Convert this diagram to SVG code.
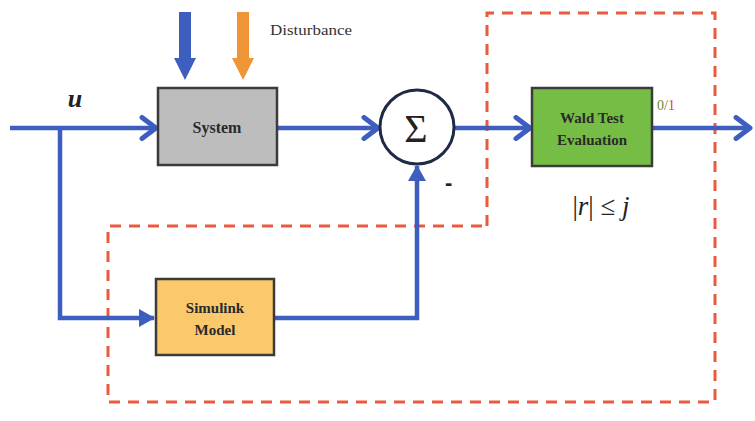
<svg xmlns="http://www.w3.org/2000/svg" width="755" height="421" viewBox="0 0 755 421">
  <defs>
    <marker id="chev" viewBox="0 0 20 26" markerWidth="20" markerHeight="26" refX="17" refY="13" orient="auto" markerUnits="userSpaceOnUse">
      <path d="M3,2.5 L17,13 L3,23.5" fill="none" stroke="#3d5ebf" stroke-width="5" stroke-linecap="round" stroke-linejoin="round"/>
    </marker>
    <marker id="tri" viewBox="0 0 16 18" markerWidth="16" markerHeight="18" refX="15" refY="9" orient="auto" markerUnits="userSpaceOnUse">
      <path d="M0,0 L16,9 L0,18 Z" fill="#3d5ebf"/>
    </marker>
  </defs>
  <style>
    .wire { fill: none; stroke: #3d5ebf; stroke-width: 4.5; }
    .box { stroke: #3b3b3b; stroke-width: 2.5; }
    .lbl { font-family: "Liberation Serif", serif; font-weight: bold; fill: #2a2a2a; text-anchor: middle; }
    .zone { fill: none; stroke: #ec5a3e; stroke-width: 3; stroke-dasharray: 11 8; }
  </style>
  <rect width="755" height="421" fill="#ffffff"/>

  <!-- dashed observer region -->
  <path class="zone" d="M487,226 L487,13 L715,13 L715,402 L108,402 L108,226 Z"/>

  <!-- disturbance inputs -->
  <g id="disturbance">
    <polygon points="179,12 191,12 191,58 196,58 185,80 174,58 179,58" fill="#3d5ebf"/>
    <polygon points="237,12 249,12 249,58 254,58 243,80 232,58 237,58" fill="#ef9437"/>
    <text x="270" y="35" font-family="Liberation Serif, serif" font-size="14" fill="#333" textLength="82" lengthAdjust="spacingAndGlyphs">Disturbance</text>
  </g>

  <g id="connectors">
    <path class="wire" d="M10,128 L156,128" marker-end="url(#chev)"/>
    <path class="wire" d="M60,128 L60,318 L154,318" marker-end="url(#tri)"/>
    <path class="wire" d="M277,128 L378,128" marker-end="url(#chev)"/>
    <path class="wire" d="M274,318 L417,318 L417,166" marker-end="url(#tri)"/>
    <path class="wire" d="M454,128 L530,128" marker-end="url(#chev)"/>
    <path class="wire" d="M652,128 L750,128" marker-end="url(#chev)"/>
  </g>

  <text x="75" y="107" font-family="Liberation Serif, serif" font-size="26" font-style="italic" font-weight="bold" fill="#222" text-anchor="middle">u</text>

  <g id="system">
    <rect class="box" x="158" y="88" width="119" height="77" fill="#bdbdbd"/>
    <text class="lbl" x="217" y="133" font-size="16">System</text>
  </g>

  <g id="sum">
    <circle cx="417" cy="127" r="37" fill="#ffffff" stroke="#1f2a44" stroke-width="3"/>
    <text x="416" y="142" font-family="Liberation Serif, serif" font-size="40" fill="#222" text-anchor="middle">Σ</text>
    <text x="445" y="190" font-family="Liberation Sans, sans-serif" font-size="22" font-weight="bold" fill="#222">-</text>
  </g>

  <g id="wald">
    <rect class="box" x="532" y="88" width="120" height="78" fill="#76bd45"/>
    <text class="lbl" x="592" y="123" font-size="15">Wald Test</text>
    <text class="lbl" x="592" y="145" font-size="15">Evaluation</text>
    <text x="657" y="110" font-family="Liberation Serif, serif" font-size="14"><tspan fill="#6d8a2a">0/</tspan><tspan fill="#e04030">1</tspan></text>
    <text x="601" y="215" font-family="Liberation Serif, serif" font-size="27" fill="#222" text-anchor="middle"><tspan>|</tspan><tspan font-style="italic">r</tspan><tspan>| ≤ </tspan><tspan font-style="italic">j</tspan></text>
  </g>

  <g id="simulink">
    <rect class="box" x="156" y="279" width="118" height="76" fill="#fbc86c"/>
    <text class="lbl" x="215" y="313" font-size="15">Simulink</text>
    <text class="lbl" x="215" y="335" font-size="15">Model</text>
  </g>
</svg>
